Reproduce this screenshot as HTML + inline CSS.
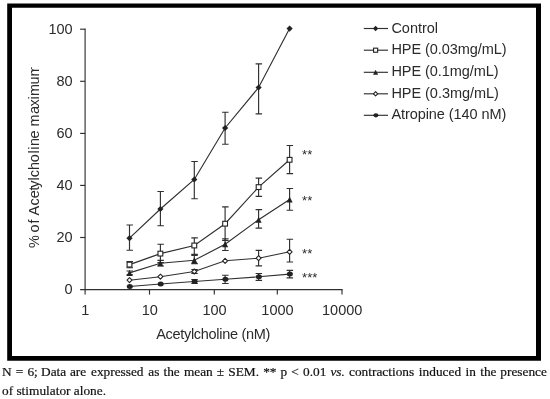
<!DOCTYPE html>
<html><head><meta charset="utf-8"><title>Figure</title>
<style>
html,body{margin:0;padding:0;background:#fff;}
body{width:550px;height:399px;position:relative;overflow:hidden;}
.cap{position:absolute;left:2px;width:544px;font-family:"Liberation Serif","Times New Roman",serif;font-size:13.33px;line-height:18px;height:18px;color:#111;white-space:nowrap;-webkit-text-stroke:0.2px #111;}
.l1{top:362.6px;word-spacing:0.785px;}
.l2{top:381.6px;}
.r{position:relative;}
</style></head><body>
<svg width="550" height="399" viewBox="0 0 550 399" style="position:absolute;left:0;top:0;filter:blur(0.35px)">
<rect x="0" y="0" width="550" height="399" fill="#fff"/>
<path fill-rule="evenodd" fill="#000" d="M7.2 3.5H541V360.8H7.2ZM12 7.8H536V356H12Z"/>
<g stroke="#303030" stroke-width="1.15" fill="none">
<path d="M85.1 28.6V294.6"/>
<path d="M80.1 289.6H342.6"/>
<path d="M80.1 237.5H85.1"/>
<path d="M80.1 185.4H85.1"/>
<path d="M80.1 133.4H85.1"/>
<path d="M80.1 81.3H85.1"/>
<path d="M80.1 29.2H85.1"/>
<path d="M149.5 289.6V294.6"/>
<path d="M214.3 289.6V294.6"/>
<path d="M277.3 289.6V294.6"/>
<path d="M342.0 289.6V294.6"/>
</g>
<g stroke="#303030" stroke-width="1.15" fill="none">
<path d="M129.5 238.2L160.4 209.0L194.3 179.5L225.1 128.0L258.6 87.5L289.6 28.6"/>
<path d="M129.5 225.0V250.2M126.5 225.0H133.0M126.5 250.2H133.0"/>
<path d="M160.4 191.5V225.7M157.4 191.5H163.9M157.4 225.7H163.9"/>
<path d="M194.3 161.5V198.7M191.3 161.5H197.8M191.3 198.7H197.8"/>
<path d="M225.1 112.2V144.2M222.1 112.2H228.6M222.1 144.2H228.6"/>
<path d="M258.6 63.8V113.8M255.6 63.8H262.1M255.6 113.8H262.1"/>
</g>
<path d="M126.40 238.20L129.50 235.10L132.60 238.20L129.50 241.30Z" fill="#222"/>
<path d="M157.30 209.00L160.40 205.90L163.50 209.00L160.40 212.10Z" fill="#222"/>
<path d="M191.20 179.50L194.30 176.40L197.40 179.50L194.30 182.60Z" fill="#222"/>
<path d="M222.00 128.00L225.10 124.90L228.20 128.00L225.10 131.10Z" fill="#222"/>
<path d="M255.50 87.50L258.60 84.40L261.70 87.50L258.60 90.60Z" fill="#222"/>
<path d="M286.50 28.60L289.60 25.50L292.70 28.60L289.60 31.70Z" fill="#222"/>
<g stroke="#303030" stroke-width="1.15" fill="none">
<path d="M129.5 264.6L160.4 253.6L194.3 245.5L225.1 223.7L258.6 187.1L289.6 159.8"/>
<path d="M129.5 261.6V267.7M126.5 261.6H133.0M126.5 267.7H133.0"/>
<path d="M160.4 244.2V262.6M157.4 244.2H163.9M157.4 262.6H163.9"/>
<path d="M194.3 237.8V254.4M191.3 237.8H197.8M191.3 254.4H197.8"/>
<path d="M225.1 206.8V240.5M222.1 206.8H228.6M222.1 240.5H228.6"/>
<path d="M258.6 178.1V196.4M255.6 178.1H262.1M255.6 196.4H262.1"/>
<path d="M289.6 145.5V173.6M286.6 145.5H293.1M286.6 173.6H293.1"/>
</g>
<rect x="127.10" y="262.20" width="4.80" height="4.80" fill="#fff" stroke="#222" stroke-width="1.1"/>
<rect x="158.00" y="251.20" width="4.80" height="4.80" fill="#fff" stroke="#222" stroke-width="1.1"/>
<rect x="191.90" y="243.10" width="4.80" height="4.80" fill="#fff" stroke="#222" stroke-width="1.1"/>
<rect x="222.70" y="221.30" width="4.80" height="4.80" fill="#fff" stroke="#222" stroke-width="1.1"/>
<rect x="256.20" y="184.70" width="4.80" height="4.80" fill="#fff" stroke="#222" stroke-width="1.1"/>
<rect x="287.20" y="157.40" width="4.80" height="4.80" fill="#fff" stroke="#222" stroke-width="1.1"/>
<g stroke="#303030" stroke-width="1.15" fill="none">
<path d="M129.5 272.9L160.4 263.2L194.3 260.3L225.1 244.3L258.6 219.7L289.6 199.5"/>
<path d="M129.5 271.0V274.9M126.5 271.0H133.0M126.5 274.9H133.0"/>
<path d="M160.4 260.3V266.0M157.4 260.3H163.9M157.4 266.0H163.9"/>
<path d="M194.3 255.4V263.6M191.3 255.4H197.8M191.3 263.6H197.8"/>
<path d="M225.1 238.8V250.5M222.1 238.8H228.6M222.1 250.5H228.6"/>
<path d="M258.6 209.6V228.1M255.6 209.6H262.1M255.6 228.1H262.1"/>
<path d="M289.6 188.5V210.2M286.6 188.5H293.1M286.6 210.2H293.1"/>
</g>
<path d="M126.50 275.90L129.50 269.90L132.50 275.90Z" fill="#222"/>
<path d="M157.40 266.20L160.40 260.20L163.40 266.20Z" fill="#222"/>
<path d="M191.30 263.30L194.30 257.30L197.30 263.30Z" fill="#222"/>
<path d="M222.10 247.30L225.10 241.30L228.10 247.30Z" fill="#222"/>
<path d="M255.60 222.70L258.60 216.70L261.60 222.70Z" fill="#222"/>
<path d="M286.60 202.50L289.60 196.50L292.60 202.50Z" fill="#222"/>
<g stroke="#303030" stroke-width="1.15" fill="none">
<path d="M129.5 280.2L160.4 276.7L194.3 271.5L225.1 260.8L258.6 258.2L289.6 251.8"/>
<path d="M194.3 269.5V273.5M191.3 269.5H197.8M191.3 273.5H197.8"/>
<path d="M258.6 250.3V265.9M255.6 250.3H262.1M255.6 265.9H262.1"/>
<path d="M289.6 239.2V262.0M286.6 239.2H293.1M286.6 262.0H293.1"/>
</g>
<path d="M127.00 280.20L129.50 277.70L132.00 280.20L129.50 282.70Z" fill="#fff" stroke="#222" stroke-width="1.1" stroke-linejoin="round"/>
<path d="M157.90 276.70L160.40 274.20L162.90 276.70L160.40 279.20Z" fill="#fff" stroke="#222" stroke-width="1.1" stroke-linejoin="round"/>
<path d="M191.80 271.50L194.30 269.00L196.80 271.50L194.30 274.00Z" fill="#fff" stroke="#222" stroke-width="1.1" stroke-linejoin="round"/>
<path d="M222.60 260.80L225.10 258.30L227.60 260.80L225.10 263.30Z" fill="#fff" stroke="#222" stroke-width="1.1" stroke-linejoin="round"/>
<path d="M256.10 258.20L258.60 255.70L261.10 258.20L258.60 260.70Z" fill="#fff" stroke="#222" stroke-width="1.1" stroke-linejoin="round"/>
<path d="M287.10 251.80L289.60 249.30L292.10 251.80L289.60 254.30Z" fill="#fff" stroke="#222" stroke-width="1.1" stroke-linejoin="round"/>
<g stroke="#303030" stroke-width="1.15" fill="none">
<path d="M129.5 286.5L160.4 284.0L194.3 281.5L225.1 279.3L258.6 276.8L289.6 274.1"/>
<path d="M194.3 279.5V283.5M191.3 279.5H197.8M191.3 283.5H197.8"/>
<path d="M225.1 275.2V283.5M222.1 275.2H228.6M222.1 283.5H228.6"/>
<path d="M258.6 273.5V280.3M255.6 273.5H262.1M255.6 280.3H262.1"/>
<path d="M289.6 270.3V277.9M286.6 270.3H293.1M286.6 277.9H293.1"/>
</g>
<ellipse cx="129.80" cy="286.50" rx="3.00" ry="2.50" fill="#222"/>
<ellipse cx="160.70" cy="284.00" rx="3.00" ry="2.50" fill="#222"/>
<ellipse cx="194.60" cy="281.50" rx="3.00" ry="2.50" fill="#222"/>
<ellipse cx="225.40" cy="279.30" rx="3.00" ry="2.50" fill="#222"/>
<ellipse cx="258.90" cy="276.80" rx="3.00" ry="2.50" fill="#222"/>
<ellipse cx="289.90" cy="274.10" rx="3.00" ry="2.50" fill="#222"/>
<g font-family="Liberation Sans, Arial, sans-serif" font-size="14.5" fill="#2b2b2b">
<text x="72.6" y="294.1" text-anchor="end">0</text>
<text x="72.6" y="242.0" text-anchor="end">20</text>
<text x="72.6" y="189.9" text-anchor="end">40</text>
<text x="72.6" y="137.9" text-anchor="end">60</text>
<text x="72.6" y="85.8" text-anchor="end">80</text>
<text x="72.6" y="33.7" text-anchor="end">100</text>
<text x="85.3" y="315.3" text-anchor="middle">1</text>
<text x="149.7" y="315.3" text-anchor="middle">10</text>
<text x="214.5" y="315.3" text-anchor="middle">100</text>
<text x="277.5" y="315.3" text-anchor="middle">1000</text>
<text x="342.2" y="315.3" text-anchor="middle">10000</text>
<text id="xt" x="156.2" y="339.2" textLength="114.2" lengthAdjust="spacing">Acetylcholine (nM)</text>
<clipPath id="yc"><rect x="20" y="67.3" width="25" height="190"/></clipPath>
<g clip-path="url(#yc)"><text id="y1" transform="translate(38.6 247.95) rotate(-90)" x="0.00 12.90 15.50 24.45 28.50 32.45 42.50 49.70 57.45 60.15 67.45 70.80 78.05 85.70 94.55 98.15 101.85 109.50 117.50 121.55 134.00 141.45 148.55 152.05 163.55 171.55">% of Acetylcholine maximum</text></g>
<path d="M363.8 28.5H388" stroke="#303030" stroke-width="1.15"/>
<path d="M372.97 28.50L375.60 25.87L378.24 28.50L375.60 31.13Z" fill="#222"/>
<text id="lg0" x="391.4" y="32.5" textLength="46.6" lengthAdjust="spacing">Control</text>
<path d="M363.8 50.2H388" stroke="#303030" stroke-width="1.15"/>
<rect x="373.56" y="48.16" width="4.08" height="4.08" fill="#fff" stroke="#222" stroke-width="1.1"/>
<text id="lg1" x="391.4" y="54.2" textLength="115.2" lengthAdjust="spacing">HPE (0.03mg/mL)</text>
<path d="M363.8 72.3H388" stroke="#303030" stroke-width="1.15"/>
<path d="M373.05 74.85L375.60 69.75L378.15 74.85Z" fill="#222"/>
<text id="lg2" x="391.4" y="76.3" textLength="107.3" lengthAdjust="spacing">HPE (0.1mg/mL)</text>
<path d="M363.8 93.8H388" stroke="#303030" stroke-width="1.15"/>
<path d="M373.48 93.80L375.60 91.67L377.73 93.80L375.60 95.92Z" fill="#fff" stroke="#222" stroke-width="1.1" stroke-linejoin="round"/>
<text id="lg3" x="391.4" y="97.8" textLength="107.5" lengthAdjust="spacing">HPE (0.3mg/mL)</text>
<path d="M363.8 115.3H388" stroke="#303030" stroke-width="1.15"/>
<ellipse cx="375.90" cy="115.30" rx="2.55" ry="2.12" fill="#222"/>
<text id="lg4" x="391.4" y="119.3" textLength="115.0" lengthAdjust="spacing">Atropine (140 nM)</text>
<text x="302.1" y="159.4" font-size="13">**</text>
<text x="302.1" y="204.9" font-size="13">**</text>
<text x="302.1" y="258.2" font-size="13">**</text>
<text x="302.1" y="281.9" font-size="13">***</text>
</g>
</svg>
<div class="cap l1" id="l1">N = 6; <span class="r" style="left:-0.8px">Data</span> <span class="r" style="left:-1.3px">are</span> <span class="r" style="left:-0.6px">expressed</span> as the mean ± SEM. ** p &lt; 0.01 <i>vs.</i> contractions <span class="r" style="left:0.6px">induced</span> <span class="r" style="left:1.0px">in</span> <span class="r" style="left:1.1px">the</span> <span class="r" style="left:0.8px">presence</span></div>
<div class="cap l2">of stimulator alone.</div>
</body></html>
